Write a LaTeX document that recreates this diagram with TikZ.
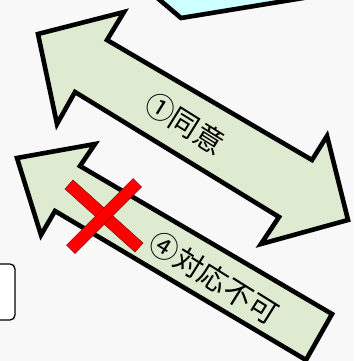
\documentclass[tikz,border=0pt]{standalone}
\usepackage{fontspec}
\newfontfamily\cjk{Noto Sans CJK JP}
\definecolor{bgc}{HTML}{F8F8F8}
\definecolor{arrowfill}{HTML}{DEEBD1}
\definecolor{cyanfill}{HTML}{CCFFFF}
\tikzset{
  arrowshape/.style={draw=black, fill=arrowfill, line width=4.6pt, line join=miter},
  crossarm/.style={fill=red, draw=red!55!black, line width=0.5pt},
  lbl/.style={font=\cjk\fontsize{29}{29}\selectfont, inner sep=0pt},
}
\begin{document}
\begin{tikzpicture}[x=1pt,y=-1pt]
\useasboundingbox (0,0) rectangle (354,361);
\fill[bgc] (0,0) rectangle (354,361);
\begin{scope}
\clip (0,0) rectangle (354,361);
% top-right cyan box
\draw[draw=black, fill=cyanfill, line width=4.6pt, line join=miter]
  (148,-10) -- (181,18) -- (340,-8) -- cycle;
% left rounded rectangle
\draw[black, fill=white, line width=1.3pt, rounded corners=5pt]
  (-10,264) rectangle (15,320);
% double arrow
\draw[arrowshape] (38,34) -- (124,12) -- (107,40) -- (312,160) -- (327,136)
  -- (348,220) -- (261,244) -- (279,217) -- (75,92) -- (57,124) -- cycle;
% single arrow
\draw[arrowshape] (17,158) -- (95,144) -- (80,166) -- (332,314) -- (306,360)
  -- (55,211) -- (41,235) -- cycle;
\end{scope}
% labels
\node[lbl, rotate=-32] (agree) at (185,123) {①同意};
\node[lbl, rotate=-32] (refuse) at (214,278) {④対応不可};
% red cross
\draw[crossarm] (135,252) -- (143,243) -- (73,180) -- (65,189) -- cycle;
\draw[crossarm] (141.4,187) -- (133,178.6) -- (66.6,245) -- (75,253.4) -- cycle;
\end{tikzpicture}
\end{document}
